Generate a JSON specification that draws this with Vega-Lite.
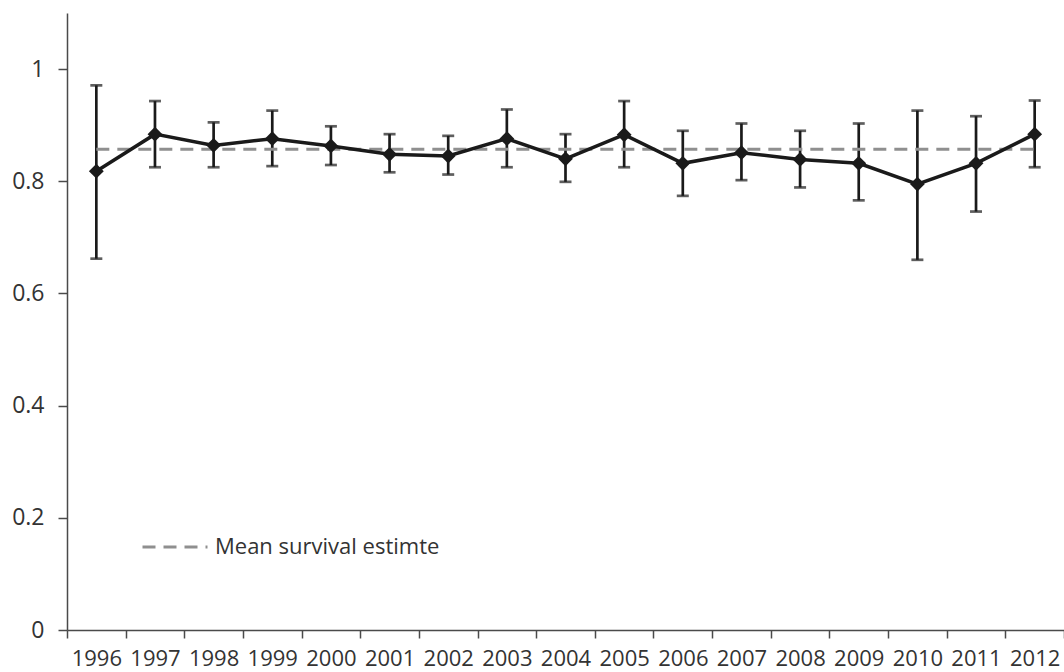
{
  "$schema": "https://vega.github.io/schema/vega-lite/v6.json",
  "width": 997,
  "height": 617,
  "autosize": "none",
  "padding": {"left": 67, "top": 13, "right": 0, "bottom": 42},
  "config": {"view": {"stroke": null}, "font": "Open Sans"},
  "datasets": {
    "surv": [
      {"year": "1996", "est": 0.818, "lo": 0.662, "hi": 0.971},
      {"year": "1997", "est": 0.884, "lo": 0.825, "hi": 0.943},
      {"year": "1998", "est": 0.864, "lo": 0.825, "hi": 0.905},
      {"year": "1999", "est": 0.876, "lo": 0.827, "hi": 0.926},
      {"year": "2000", "est": 0.863, "lo": 0.829, "hi": 0.898},
      {"year": "2001", "est": 0.848, "lo": 0.816, "hi": 0.884},
      {"year": "2002", "est": 0.845, "lo": 0.812, "hi": 0.881},
      {"year": "2003", "est": 0.876, "lo": 0.825, "hi": 0.928},
      {"year": "2004", "est": 0.840, "lo": 0.799, "hi": 0.884},
      {"year": "2005", "est": 0.883, "lo": 0.825, "hi": 0.943},
      {"year": "2006", "est": 0.832, "lo": 0.774, "hi": 0.890},
      {"year": "2007", "est": 0.851, "lo": 0.802, "hi": 0.903},
      {"year": "2008", "est": 0.839, "lo": 0.789, "hi": 0.890},
      {"year": "2009", "est": 0.832, "lo": 0.766, "hi": 0.903},
      {"year": "2010", "est": 0.795, "lo": 0.660, "hi": 0.926},
      {"year": "2011", "est": 0.832, "lo": 0.746, "hi": 0.916},
      {"year": "2012", "est": 0.884, "lo": 0.825, "hi": 0.944}
    ],
    "mean": [
      {"start": "1996", "end": "2012", "mean": 0.857, "label": "Mean survival estimte"}
    ]
  },
  "encoding": {
    "x": {
      "field": "year",
      "type": "ordinal",
      "scale": {"type": "band", "paddingInner": 0, "paddingOuter": 0},
      "axis": {
        "title": null,
        "labelAngle": 0,
        "tickBand": "extent",
        "tickSize": 8,
        "tickWidth": 1.5,
        "domainWidth": 1.5,
        "domainColor": "#4a4a4a",
        "tickColor": "#4a4a4a",
        "labelFontSize": 22,
        "labelColor": "#333333",
        "labelPadding": 10,
        "labelOverlap": false,
        "grid": false
      }
    },
    "y": {
      "type": "quantitative",
      "scale": {"domain": [0, 1.1], "nice": false, "zero": true},
      "axis": {
        "title": null,
        "values": [0, 0.2, 0.4, 0.6, 0.8, 1],
        "format": ".1~f",
        "tickSize": 9,
        "tickWidth": 1.5,
        "domainWidth": 1.5,
        "domainColor": "#4a4a4a",
        "tickColor": "#4a4a4a",
        "labelFontSize": 23,
        "labelColor": "#333333",
        "labelPadding": 14,
        "grid": false
      }
    }
  },
  "layer": [
    {
      "data": {"name": "surv"},
      "mark": {"type": "rule", "color": "#1a1a1a", "strokeWidth": 2.7},
      "encoding": {"y": {"field": "lo"}, "y2": {"field": "hi"}}
    },
    {
      "data": {"name": "surv"},
      "mark": {"type": "tick", "color": "#1a1a1a", "thickness": 2.7, "size": 12, "orient": "horizontal"},
      "encoding": {"y": {"field": "lo"}}
    },
    {
      "data": {"name": "surv"},
      "mark": {"type": "tick", "color": "#1a1a1a", "thickness": 2.7, "size": 12, "orient": "horizontal"},
      "encoding": {"y": {"field": "hi"}}
    },
    {
      "data": {"name": "mean"},
      "mark": {"type": "rule", "strokeWidth": 3, "strokeDash": [13, 8]},
      "encoding": {
        "x": {"field": "start"},
        "x2": {"field": "end"},
        "y": {"field": "mean"},
        "stroke": {
          "field": "label",
          "type": "nominal",
          "scale": {"range": ["#8f8f8f"]},
          "legend": {
            "orient": "none",
            "legendX": 74,
            "legendY": 500,
            "padding": 0,
            "title": null,
            "symbolType": "stroke",
            "symbolDash": [13, 8],
            "symbolStrokeWidth": 3,
            "symbolSize": 4225,
            "symbolStrokeColor": "#8f8f8f",
            "labelFontSize": 22,
            "labelColor": "#333333",
            "labelOffset": 6,
            "labelLimit": 400
          }
        }
      }
    },
    {
      "data": {"name": "surv"},
      "mark": {"type": "line", "color": "#1a1a1a", "strokeWidth": 3.5},
      "encoding": {"y": {"field": "est"}}
    },
    {
      "data": {"name": "surv"},
      "mark": {"type": "point", "shape": "diamond", "filled": true, "color": "#1a1a1a", "size": 220, "opacity": 1},
      "encoding": {"y": {"field": "est"}}
    }
  ]
}
